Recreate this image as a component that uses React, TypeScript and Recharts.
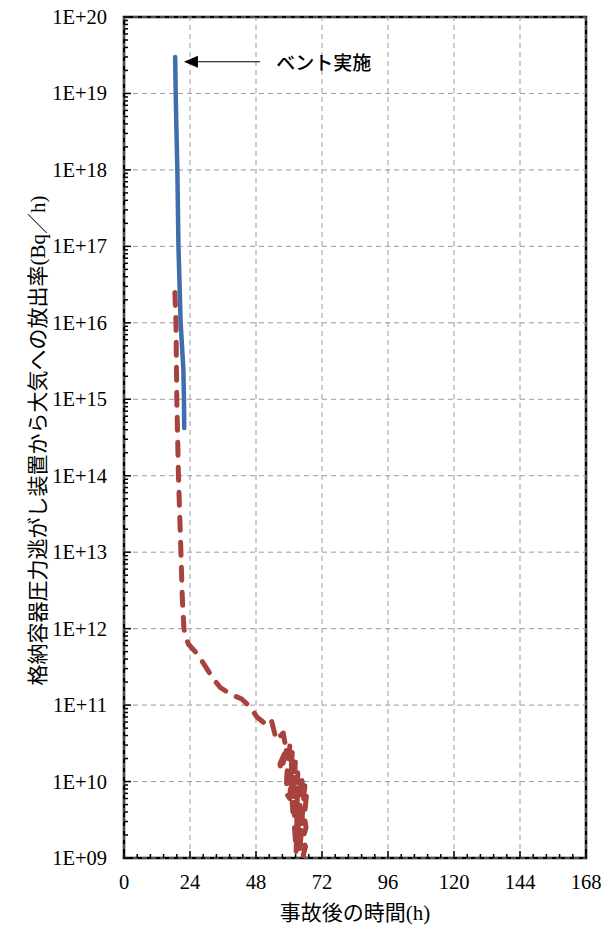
import { Line, LineChart, ReferenceArea, ReferenceLine, XAxis, YAxis } from 'recharts';

// 実測（ベント実施）
const ventHours = [18.6, 18.8, 19.1, 19.4, 19.8, 20.6, 21.6, 21.8, 21.9];
const ventRates = [3e19, 1e19, 3e18, 1e18, 1e17, 1e16, 2.4e15, 1e15, 4.2e14];

// 推定（破線）
const estHours = [
  18.5, 18.9, 19.2, 19.8, 20.7, 21.2, 21.8, 22.3, 23.4, 27.0,
  32.5, 35.0, 38.6, 42.8, 45.8, 48.3, 51.9, 53.6, 55.4, 57.9,
  59.0, 56.7, 57.2, 59.5, 60.4, 59.2, 59.0, 60.3, 61.2, 60.6,
  61.4, 62.3, 61.8, 62.0, 62.6, 63.2, 62.9, 63.5, 63.0, 64.2,
  64.8, 64.0, 64.6, 63.9, 65.3, 65.8, 66.4, 65.6, 66.2, 65.0,
  66.0, 65.2, 65.6, 64.8,
];
const estRates = [
  2.5e16, 1e16, 1e15, 1e14, 1e13, 2.5e12, 1e12, 8e11, 6.3e11, 4.5e11,
  2.2e11, 1.7e11, 1.4e11, 1.2e11, 9.5e10, 7e10, 5.5e10, 6.3e10, 3.5e10, 4.3e10,
  2.6e10, 1.7e10, 1.4e10, 3e10, 3.2e10, 1.2e10, 7e9, 6e9, 2.4e10, 1.2e10,
  4e9, 1.8e10, 8e9, 2.5e9, 1.2e9, 1.3e10, 6e9, 3e9, 1.5e9, 1.2e10,
  1e10, 5e9, 2.5e9, 1.2e9, 6e9, 9e9, 7e9, 3.5e9, 2.5e9, 1.8e9,
  1.4e9, 1.1e9, 9e8, 8e8,
];

const xTicks = [0, 24, 48, 72, 96, 120, 144, 168];
const yTicks = [1e9, 1e10, 1e11, 1e12, 1e13, 1e14, 1e15, 1e16, 1e17, 1e18, 1e19, 1e20];

const ventLabel = 'ベント実施';
const xLabel = '事故後の時間(h)';
const yLabel = '格納容器圧力逃がし装置から大気への放出率(Bq／h)';

const ventData = ventHours.map((t, i) => ({ t, v: ventRates[i] }));
const estData = estHours.map((t, i) => ({ t, v: estRates[i] }));

// 目盛り（主目盛り＋補助目盛り）
const xAllTicks = xTicks.flatMap((t, i) =>
  i === 0 ? [t] : [1, 2, 3, 4, 5].map((k) => xTicks[i - 1] + (k * (t - xTicks[i - 1])) / 5)
);
const yAllTicks = yTicks.flatMap((v, i) =>
  i === 0 ? [v] : [2, 3, 4, 5, 6, 7, 8, 9, 10].map((m) => m * yTicks[i - 1])
);

const FONT = "'Liberation Serif', 'Noto Sans CJK JP', serif";
const BLUE = '#3F6EAA';
const RED = '#A8423E';
const GRID = '#9a9a9a';

const fmtY = (v: number) => '1E+' + String(Math.round(Math.log10(v))).padStart(2, '0');

const isDecade = (v: number) => {
  const l = Math.log10(v);
  return Math.abs(l - Math.round(l)) < 1e-6;
};
const isMajorX = (v: number) => xTicks.some((t) => Math.abs(t - v) < 1e-6);

const YTick = ({ x, y, payload }: any) => {
  const major = isDecade(payload.value);
  return (
    <g>
      <line x1={x} x2={x + (major ? 7 : 4)} y1={y} y2={y} stroke="#000" strokeWidth={1.5} />
      {major && (
        <text x={x - 17} y={y} textAnchor="end" dominantBaseline="central" fontSize={20.5} fontFamily={FONT} fill="#000">
          {fmtY(payload.value)}
        </text>
      )}
    </g>
  );
};

const XTick = ({ x, y, payload }: any) => {
  const major = isMajorX(payload.value);
  return (
    <g>
      <line x1={x} x2={x} y1={y} y2={y - (major ? 7 : 4)} stroke="#000" strokeWidth={1.5} />
      {major && (
        <text x={x} y={y + 24} textAnchor="middle" dominantBaseline="central" fontSize={20.5} fontFamily={FONT} fill="#000">
          {Math.round(payload.value)}
        </text>
      )}
    </g>
  );
};

const VentArrow = ({ x1, y1, x2 }: any) => (
  <g>
    <line x1={x1 + 10} y1={y1} x2={x2} y2={y1} stroke="#000" strokeWidth={1.2} />
    <polygon points={`${x1},${y1} ${x1 + 14},${y1 - 6} ${x1 + 14},${y1 + 6}`} fill="#000" />
    <text
      x={x2 + 16}
      y={y1}
      dominantBaseline="central"
      fontFamily="'Noto Sans CJK JP', sans-serif"
      fontSize={19}
      fontWeight={500}
      fill="#000"
    >
      {ventLabel}
    </text>
  </g>
);

export default function App() {
  return (
    <div style={{ width: 606, height: 927 }}>
      <style>{'body{margin:0}'}</style>
      <LineChart width={606} height={927} margin={{ top: 17, right: 20, left: 0, bottom: 0 }}>
        <XAxis
          dataKey="t"
          type="number"
          domain={[0, 168]}
          ticks={xAllTicks}
          interval={0}
          allowDataOverflow
          height={69}
          axisLine={false}
          tickLine={false}
          tickSize={0}
          tickMargin={0}
          tick={XTick}
          label={{
            content: ({ viewBox }: any) => (
              <text
                x={viewBox.x + viewBox.width / 2}
                y={viewBox.y + 55}
                textAnchor="middle"
                dominantBaseline="central"
                fontSize={21}
                fontFamily={FONT}
                fill="#000"
              >
                {xLabel}
              </text>
            ),
          }}
        />
        <YAxis
          type="number"
          scale="log"
          domain={[1e9, 1e20]}
          ticks={yAllTicks}
          interval={0}
          allowDataOverflow
          width={124}
          axisLine={false}
          tickLine={false}
          tickSize={0}
          tickMargin={0}
          tick={YTick}
          label={{
            content: ({ viewBox }: any) => {
              const cx = viewBox.x + 38;
              const cy = viewBox.y + viewBox.height / 2 + 3;
              return (
                <text
                  x={cx}
                  y={cy}
                  transform={`rotate(-90, ${cx}, ${cy})`}
                  textAnchor="middle"
                  dominantBaseline="central"
                  fontSize={21}
                  fontFamily={FONT}
                  fill="#000"
                >
                  {yLabel}
                </text>
              );
            },
          }}
        />
        {xTicks.map((t) => (
          <ReferenceLine key={`gx${t}`} x={t} stroke={GRID} strokeDasharray="5 4" />
        ))}
        {yTicks.map((v) => (
          <ReferenceLine key={`gy${v}`} y={v} stroke={GRID} strokeDasharray="5 4" />
        ))}
        <Line
          data={estData}
          dataKey="v"
          stroke={RED}
          strokeWidth={5}
          strokeDasharray="13 12"
          strokeLinecap="round"
          strokeLinejoin="round"
          dot={false}
          isAnimationActive={false}
        />
        <Line
          data={ventData}
          dataKey="v"
          stroke={BLUE}
          strokeWidth={4.5}
          strokeLinecap="round"
          strokeLinejoin="round"
          dot={false}
          isAnimationActive={false}
        />
        <ReferenceArea x1={0} x2={168} y1={1e9} y2={1e20} fill="none" stroke="#000" strokeWidth={2.5} />
        <ReferenceLine
          segment={[
            { x: 21.8, y: 2.6e19 },
            { x: 49.5, y: 2.6e19 },
          ]}
          shape={VentArrow}
        />
      </LineChart>
    </div>
  );
}
